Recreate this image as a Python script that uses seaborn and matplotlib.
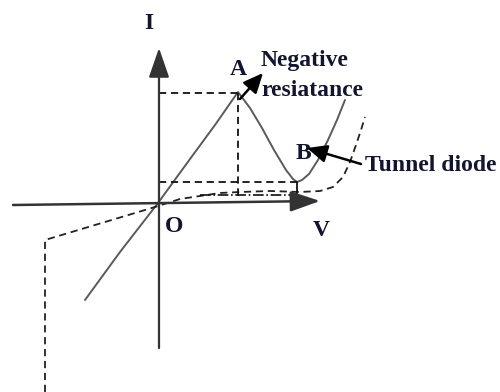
import numpy as np
import pandas as pd
import matplotlib
matplotlib.use('Agg')
import matplotlib.pyplot as plt
import seaborn as sns

sns.set_style('white')
plt.rcParams['font.family'] = ['Liberation Serif', 'DejaVu Serif']

# ------------------------------------------------------------
# Données du schéma (coordonnées dans le repère de l'image, y vers le bas)
# ------------------------------------------------------------
# caractéristique de la diode tunnel : montée O -> A, vallée B, remontée
tunnel_x = [85, 120, 158, 190, 215, 238, 250, 262, 274, 286, 293, 297, 302, 309, 318, 328, 337, 345]
tunnel_y = [300, 252, 203, 159, 125, 92, 108, 128, 150, 170, 179, 182, 180, 174, 160, 140, 120, 100]

# diode ordinaire (pointillés)
diode_x = [45, 45, 155, 180, 200, 220, 240, 270, 300, 320, 333, 343, 350, 356, 361, 365]
diode_y = [392, 240, 207, 199, 196, 193, 192, 191, 192, 191, 187, 177, 162, 145, 130, 117]

# repères A et B
pic_x, pic_y = 238, 93
vallee_x, vallee_y = 297, 182
origine_x, origine_y = 159, 203

etiquettes = ['I', 'A', 'B', 'O', 'V']
etiq_x = [149, 238, 303, 174, 321]
etiq_y = [23, 69, 153, 226, 230]

texte_nr = ['Negative', 'resiatance']
texte_td = 'Tunnel diode'

# ------------------------------------------------------------
fig = plt.figure(figsize=(5, 3.92), dpi=100)
ax = fig.add_axes([0, 0, 1, 1])
ax.set_xlim(0, 500)
ax.set_ylim(392, 0)
ax.axis('off')

gris = '#5a5a5a'
noir = '#111111'
tirets = (0, (4, 2.6))

# axes I et V
ax.annotate('', xy=(origine_x, 48), xytext=(origine_x, 348),
            arrowprops=dict(arrowstyle='-|>,head_length=1.3,head_width=0.45',
                            color='#333333', lw=1.6, mutation_scale=14, shrinkA=0, shrinkB=0))
ax.annotate('', xy=(320, 201), xytext=(13, 205),
            arrowprops=dict(arrowstyle='-|>,head_length=1.3,head_width=0.45',
                            color='#333333', lw=1.8, mutation_scale=14, shrinkA=0, shrinkB=0))

# courbe de la diode tunnel
sns.lineplot(x=tunnel_x, y=tunnel_y, sort=False, estimator=None, color=gris, lw=1.4, ax=ax)

# courbe de la diode ordinaire
sns.lineplot(x=diode_x, y=diode_y, sort=False, estimator=None, color='#222222', lw=1.3,
             linestyle=tirets, ax=ax)

# lignes de repère
ax.plot([origine_x, pic_x], [pic_y, pic_y], color=noir, lw=1.3, linestyle=tirets)
ax.plot([pic_x, pic_x], [pic_y, 196], color=noir, lw=1.3, linestyle=tirets)
ax.plot([origine_x, vallee_x], [vallee_y, vallee_y], color=noir, lw=1.3, linestyle=tirets)
ax.plot([vallee_x, vallee_x], [vallee_y, 197], color=noir, lw=1.3)
ax.plot([200, vallee_x], [195, 195], color=noir, lw=1.2, linestyle='-.')

# étiquettes
for t, x, y in zip(etiquettes, etiq_x, etiq_y):
    ax.text(x, y, t, fontsize=17, fontweight='bold', color='#141430', ha='center', va='center')

ax.text(261, 66, texte_nr[0], fontsize=17, fontweight='bold', color='#141430', ha='left', va='baseline')
ax.text(261, 96, texte_nr[1], fontsize=17, fontweight='bold', color='#141430', ha='left', va='baseline')
ax.text(365, 171, texte_td, fontsize=17, fontweight='bold', color='#141430', ha='left', va='baseline')

# flèches d'annotation
ax.annotate('', xy=(263, 73), xytext=(240, 99),
            arrowprops=dict(arrowstyle='-|>,head_length=1.0,head_width=0.45',
                            color='black', lw=1.8, mutation_scale=12, shrinkA=0, shrinkB=0))
ax.annotate('', xy=(307, 148), xytext=(361, 164),
            arrowprops=dict(arrowstyle='-|>,head_length=1.0,head_width=0.45',
                            color='black', lw=1.8, mutation_scale=12, shrinkA=0, shrinkB=0))

plt.savefig('out.png', dpi=100)
